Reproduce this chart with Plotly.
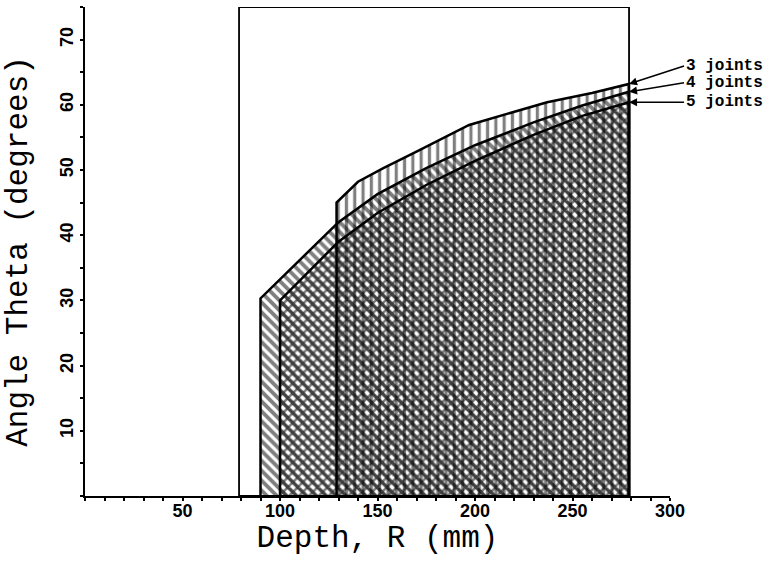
import plotly.graph_objects as go

# ---- data ----
# Reachable workspace outline for each manipulator configuration
r_3joints = [129, 129, 140, 153, 170, 197, 237, 260, 279, 279]
theta_3joints = [0, 45, 48.2, 50.3, 52.8, 56.9, 60.4, 61.8, 63.2, 0]

r_4joints = [90, 90, 130, 150, 175, 200, 230, 255, 279, 279]
theta_4joints = [0, 30.3, 42, 46.3, 50.3, 53.8, 57.3, 59.9, 62, 0]

r_5joints = [100, 100, 130, 150, 175, 200, 230, 255, 279, 279]
theta_5joints = [0, 30, 39, 43.4, 47.7, 51.4, 55.4, 58.3, 60.4, 0]

series_names = ["3 joints", "4 joints", "5 joints"]
series_patterns = ["|", "\\", "x"]

# workspace box
box_r = [79, 279]
box_theta = [0, 75]

x_ticks = [50, 100, 150, 200, 250, 300]
y_ticks = [10, 20, 30, 40, 50, 60, 70]

fig = go.Figure()

series = [(r_3joints, theta_3joints), (r_4joints, theta_4joints), (r_5joints, theta_5joints)]
pattern_sizes = {"|": 8.3, "\\": 7.0, "x": 7.0}
pattern_solid = {"|": 0.38, "\\": 0.55, "x": 0.6}
for name, (rr, tt), pat in zip(series_names, series, series_patterns):
    fig.add_trace(go.Scatter(
        x=rr, y=tt, name=name, mode="lines",
        line=dict(color="black", width=2.5),
        fill="toself", fillcolor="rgba(0,0,0,0)",
        fillpattern=dict(shape=pat, fgcolor="black", bgcolor="rgba(0,0,0,0)",
                         size=pattern_sizes[pat], solidity=pattern_solid[pat]),
        showlegend=False, hoverinfo="skip",
    ))

fig.add_shape(type="rect", xref="x", yref="y",
              x0=box_r[0], x1=box_r[1], y0=box_theta[0], y1=box_theta[1],
              line=dict(color="black", width=1.8), layer="above")

# labels with arrows pointing at the upper right corner of each region
label_targets = [(r_3joints[-2], theta_3joints[-2]), (r_4joints[-2], theta_4joints[-2]),
                 (r_5joints[-2], theta_5joints[-2])]
ay_offsets = [-18, -9, 0]
for name, (xx, yy), ay in zip(series_names, label_targets, ay_offsets):
    fig.add_annotation(x=xx, y=yy, xref="x", yref="y", text="<b>" + name + "</b>",
                       showarrow=True, arrowhead=2, arrowsize=1, arrowwidth=1.6,
                       arrowcolor="black", ax=55, ay=ay, xanchor="left",
                       font=dict(family="Liberation Mono", size=16, color="black"))

tick_font = dict(family="Liberation Sans", size=18, color="black")

axis_common = dict(showgrid=False, zeroline=False, showline=True, linecolor="black",
                   linewidth=2, ticks="outside", ticklen=3, tickcolor="black", tickwidth=1.5,
                   tickfont=tick_font)

fig.update_xaxes(range=[0, 300], tickvals=x_ticks,
                 ticktext=["<b>" + str(v) + "</b>" for v in x_ticks],
                 ticklabelstandoff=-6,
                 minor=dict(dtick=10, ticks="outside", ticklen=3, tickcolor="black", tickwidth=1.5),
                 title=dict(text="Depth, R (mm)", standoff=0,
                            font=dict(family="Liberation Mono", size=31, color="black")),
                 **axis_common)
fig.update_yaxes(range=[0, 75], tickvals=y_ticks,
                 ticktext=["<b>" + str(v) + "</b>" for v in y_ticks],
                 tickangle=-90,
                 minor=dict(dtick=5, ticks="outside", ticklen=3, tickcolor="black", tickwidth=1.5),
                 title=dict(text="Angle Theta (degrees)", standoff=20,
                            font=dict(family="Liberation Mono", size=31, color="black")),
                 **axis_common)

fig.update_layout(width=768, height=561, margin=dict(l=85, r=98, t=7, b=65),
                  plot_bgcolor="white", paper_bgcolor="white", showlegend=False)

fig.write_html("out.html")
